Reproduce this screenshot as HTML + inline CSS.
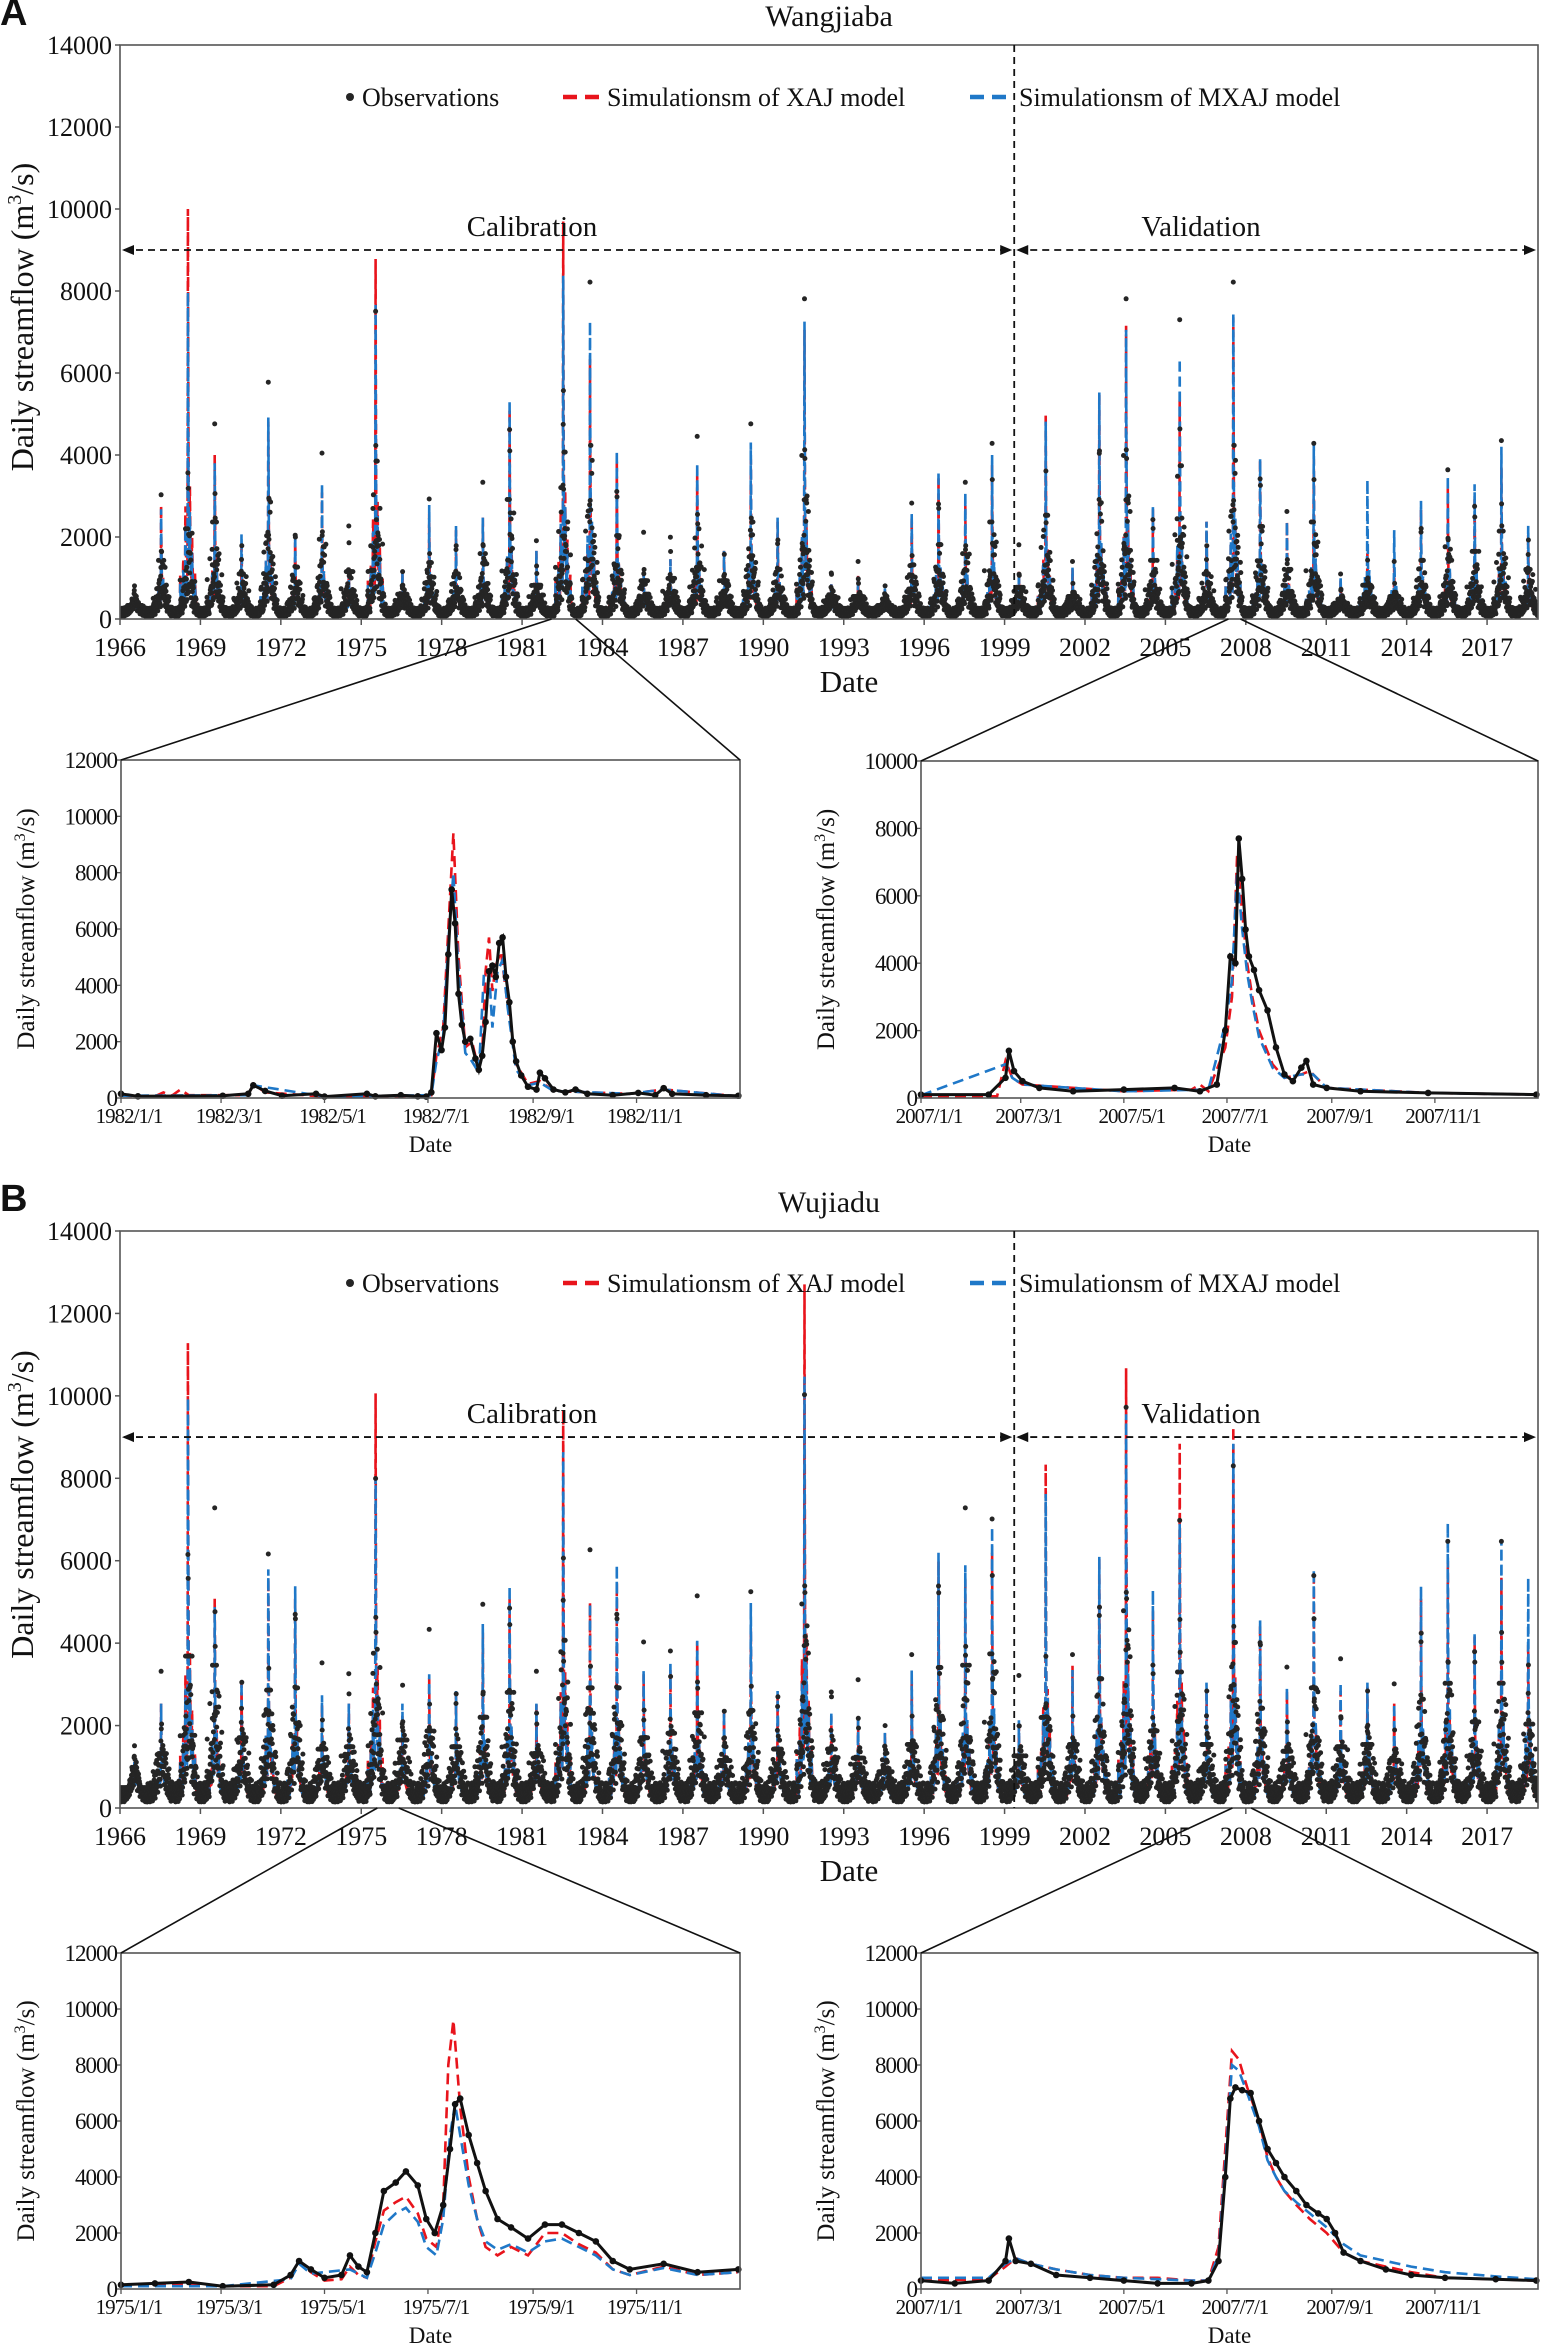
<!DOCTYPE html>
<html><head><meta charset="utf-8"><style>
body{margin:0;background:#fff;}
svg{display:block;font-family:"Liberation Serif",serif;}
</style></head><body>
<svg id="fig" width="1543" height="2346" viewBox="0 0 1543 2346"></svg>
<script>
// ---------- DATA ----------
const years = [];
for (let y = 1966; y <= 2018; y++) years.push(y);
const wjbObsPeak = [600,2600,4000,4300,2000,5300,2300,3600,2100,7000,1100,2500,2000,2900,5300,1500,7400,7700,3700,1700,1800,4000,1700,4300,2200,7300,1000,1000,600,2400,3300,2900,4300,1400,4600,1000,5300,7300,2600,6800,2000,7700,4100,2200,4300,700,1500,1000,2600,3200,3000,3900,2200];
const wjbXajPeak = [300,2500,9600,3700,1500,4500,1800,2800,1000,8400,900,2300,1900,2200,4800,1400,9300,6000,3600,1000,1200,3200,1400,3600,2100,6700,600,800,500,2200,3200,2500,3500,900,4700,1000,5200,6800,2400,5000,2100,7000,3600,2100,3600,700,1400,1000,2400,2900,2700,3400,1800];
const wjbMxajPeak = [300,2400,7600,3500,1800,4600,1800,3000,900,7300,900,2500,2000,2200,5000,1400,8000,6900,3800,1000,1200,3500,1400,4000,2200,6900,600,800,500,2300,3300,2800,3700,900,4500,1000,5200,6700,2500,6000,2100,7100,3600,2100,4000,800,3100,1900,2600,3200,3000,3900,2000];
const wjdObsPeak = [900,2400,6700,6300,3100,5200,5300,2600,2700,7000,3000,3400,2700,4000,5100,2400,7400,5300,5300,3100,3300,4200,2100,4300,2600,9000,2600,2200,1600,2800,6200,6300,6800,2300,4000,2800,5700,8700,3400,6000,2800,7300,4400,2500,5300,2700,2800,2100,4800,5500,3800,5500,3700];
const wjdXajPeak = [600,2000,10600,4500,2500,5000,4500,2000,2000,9400,1700,2600,2200,3700,4500,2000,9000,4400,4900,2700,2800,3500,1800,3800,2200,12000,1700,1600,1300,2600,5400,5000,5600,1500,7700,2900,5500,10000,4200,8200,2300,8600,3900,2300,5000,2300,2400,2000,4500,5400,3600,5000,3400];
const wjdMxajPeak = [600,2000,9300,4300,2500,5200,4800,2200,2000,7400,2000,2700,2300,3900,4800,2000,8000,4400,5300,2800,3000,3500,1800,4400,2300,9800,1800,1700,1300,2800,5600,5300,6200,1600,7000,2800,5500,8900,4700,6300,2500,8200,4000,2400,5200,2500,2500,2000,4800,6300,3700,5900,5000];
const mainYTicks = [0,2000,4000,6000,8000,10000,12000,14000];
const mainXTicks = [1966,1969,1972,1975,1978,1981,1984,1987,1990,1993,1996,1999,2002,2005,2008,2011,2014,2017];
const monthTicks = [0,59,120,181,243,304];

const a1Obs = [[0,150],[10,60],[60,80],[75,150],[78,450],[85,250],[95,80],[115,150],[120,50],[145,150],[150,60],[165,100],[175,60],[180,50],[183,200],[186,2300],[189,1700],[191,2500],[193,5100],[195,7400],[197,6200],[199,3700],[201,2600],[203,2000],[206,2100],[209,1400],[211,1000],[213,1500],[215,2700],[217,4500],[219,4700],[221,4300],[223,5500],[225,5700],[227,4300],[229,3400],[231,2000],[233,1300],[236,800],[240,400],[245,300],[247,900],[250,700],[255,300],[262,200],[268,300],[275,150],[290,100],[305,180],[315,100],[320,350],[325,150],[345,100],[364,80]];
const a1Xaj = [[0,80],[20,60],[25,200],[30,80],[35,300],[40,100],[75,100],[78,500],[85,200],[120,50],[160,50],[183,100],[186,1500],[190,2500],[193,6000],[196,9400],[199,5000],[203,1800],[207,2000],[211,1000],[213,1600],[215,4500],[217,5700],[219,3800],[221,4700],[224,5200],[228,3300],[233,1200],[240,500],[247,600],[255,250],[300,150],[320,300],[364,60]];
const a1Mxaj = [[0,80],[75,100],[78,450],[120,50],[183,100],[186,1300],[190,2200],[193,5500],[196,8000],[199,4500],[203,1600],[207,1300],[211,900],[214,4400],[217,4500],[219,2500],[222,4500],[225,4900],[228,3200],[233,1000],[240,450],[247,550],[255,250],[300,150],[320,300],[364,60]];
const a2Obs = [[0,100],[40,100],[50,600],[52,1400],[55,800],[60,500],[70,300],[90,200],[120,250],[150,300],[165,200],[175,400],[180,2000],[183,4200],[186,4000],[188,7700],[190,6500],[192,5000],[194,4200],[197,3800],[200,3200],[205,2600],[210,1500],[215,700],[220,500],[225,900],[228,1100],[232,400],[240,300],[260,200],[300,150],[364,100]];
const a2Xaj = [[0,50],[45,50],[50,1100],[54,600],[60,400],[120,200],[160,250],[165,400],[170,200],[180,1500],[184,3000],[187,7200],[190,5500],[193,4000],[196,3000],[200,2000],[208,1000],[215,600],[225,700],[230,800],[240,300],[300,150],[364,100]];
const a2Mxaj = [[0,80],[50,1000],[54,600],[60,400],[120,200],[170,250],[180,2200],[184,3500],[187,6700],[190,5000],[193,3700],[196,2800],[200,1800],[208,900],[215,600],[225,700],[232,700],[240,300],[300,150],[364,100]];
const b1Obs = [[0,150],[20,200],[40,250],[60,100],[90,150],[100,500],[105,1000],[112,700],[120,400],[130,500],[135,1200],[140,800],[145,600],[150,2000],[155,3500],[162,3800],[168,4200],[175,3700],[180,2500],[185,2000],[190,3000],[194,5000],[197,6600],[200,6800],[205,5500],[210,4500],[215,3500],[222,2500],[230,2200],[240,1800],[250,2300],[260,2300],[270,2000],[280,1700],[290,1000],[300,700],[320,900],[340,600],[364,700]];
const b1Xaj = [[0,100],[20,150],[40,200],[60,100],[90,100],[100,400],[105,1000],[112,600],[120,300],[130,350],[135,800],[140,500],[145,400],[150,1700],[155,2800],[162,3100],[168,3300],[175,2700],[180,1800],[186,1500],[190,3000],[193,8000],[196,9600],[200,6500],[205,4000],[210,2500],[215,1500],[222,1200],[230,1500],[240,1200],[250,2000],[260,2000],[270,1600],[280,1300],[290,700],[300,500],[320,800],[340,500],[364,600]];
const b1Mxaj = [[0,100],[60,100],[100,350],[105,900],[112,550],[135,700],[145,400],[150,1300],[155,2300],[162,2700],[168,2900],[175,2400],[180,1500],[186,1200],[190,2500],[194,5500],[197,6600],[200,5500],[205,3700],[210,2500],[215,1700],[222,1400],[230,1600],[240,1300],[250,1700],[260,1800],[270,1500],[280,1200],[290,700],[300,500],[320,750],[340,500],[364,600]];
const b2Obs = [[0,300],[20,200],[40,300],[50,1000],[52,1800],[56,1000],[65,900],[80,500],[100,400],[120,300],[140,200],[160,200],[170,300],[176,1000],[180,4000],[183,6800],[186,7200],[190,7100],[195,7000],[200,6000],[205,5000],[210,4500],[215,4000],[222,3500],[228,3000],[235,2700],[240,2500],[245,2000],[250,1300],[260,1000],[275,700],[290,500],[310,400],[340,350],[364,300]];
const b2Xaj = [[0,300],[40,350],[50,800],[56,1100],[65,900],[80,700],[100,500],[120,400],[140,400],[160,300],[170,300],[176,1500],[180,5000],[184,8500],[188,8200],[193,7200],[200,6000],[205,4700],[210,4000],[215,3500],[222,3000],[230,2500],[240,2000],[250,1300],[260,1000],[275,800],[290,600],[310,400],[340,350],[364,300]];
const b2Mxaj = [[0,400],[40,400],[50,900],[56,1100],[65,900],[80,700],[100,500],[120,400],[160,300],[170,300],[176,1200],[180,4500],[184,8000],[188,7800],[193,7000],[200,5800],[205,4600],[210,4000],[215,3500],[222,3100],[230,2700],[240,2200],[250,1600],[260,1200],[275,1000],[290,800],[310,600],[340,450],[364,350]];

// ---------- HELPERS ----------
const NS = "http://www.w3.org/2000/svg";
const svg = document.getElementById("fig");
const RED = "#e8141c", BLUE = "#1f78c8", DOT = "#252525";
function mk(tag, attrs, parent, name) {
  const e = document.createElementNS(NS, tag);
  for (const k in attrs) e.setAttribute(k, attrs[k]);
  
  
  (parent || svg).appendChild(e);
  return e;
}
function txt(x, y, s, size, anchor, parent, name, extra) {
  const t = mk("text", Object.assign({x: x, y: y, "font-size": size, "text-anchor": anchor || "middle", fill: "#111"}, extra || {}), parent, name);
  t.textContent = s;
  return t;
}
function axis(x0, x1, y0, y1, dmin, dmax, vmin, vmax) {
  return {
    x: d => x0 + (d - dmin) / (dmax - dmin) * (x1 - x0),
    y: v => y1 - (v - vmin) / (vmax - vmin) * (y1 - y0),
    x0, x1, y0, y1
  };
}
// within-year hydrograph template (shape only)
const evDay = [90,130,160,195,220,250,290];
const evRel = [0.1,0.16,0.3,1,0.32,0.18,0.1];
const evDecay = [10,12,12,8,14,14,12];
const jit = [1,0.6,1.4,0.8,1.7,0.7,1.2,0.5,1.3,0.9,2.0,0.75];
function seasonal(base, d) {
  return base * (0.55 + 1.1 * Math.exp(-Math.pow((d - 200) / 75, 2)));
}
function yearVals(peak, base, d) {
  let v = seasonal(base, d);
  for (let k = 0; k < evDay.length; k++) {
    const dd = d - evDay[k];
    const w = dd < 0 ? 3 : evDecay[k];
    v += peak * evRel[k] * Math.exp(-Math.abs(dd) / w);
  }
  return v;
}

function mainPanel(g, ax, obsP, xajP, mxajP, base, dotBoost) {
  const STEP = 3;
  const paths = [[xajP, RED, 'xaj-simulation-line'], [mxajP, BLUE, 'mxaj-simulation-line']];
  for (const [arr, col, nm] of paths) {
    let d = "";
    years.forEach((yr, i) => {
      for (let day = 0; day < 365; day += STEP) {
        const v = yearVals(arr[i], base * 0.8, day);
        d += (d ? "L" : "M") + ax.x(yr + day / 365).toFixed(1) + "," + ax.y(v).toFixed(1);
      }
    });
    mk("path", {d: d, fill: "none", stroke: col, "stroke-width": 2.6, "stroke-dasharray": "10 5"}, g, nm);
  }
  const dg = mk("g", {fill: DOT}, g, 'observation-points');
  years.forEach((yr, i) => {
    let c = i * 5;
    for (let day = 0; day < 365; day += STEP) {
      const raw = yearVals(obsP[i], base * dotBoost, day);
      const v = Math.min(raw * jit[c++ % jit.length], Math.max(raw, obsP[i] * 0.55));
      const cc = document.createElementNS(NS, "circle");
      cc.setAttribute("cx", ax.x(yr + day / 365).toFixed(1));
      cc.setAttribute("cy", Math.min(ax.y(0) - 1, ax.y(v)).toFixed(1));
      cc.setAttribute("r", 2.5);
      
      
      dg.appendChild(cc);
    }
  });
}

function frame(ax, g, name) {
  mk("rect", {x: ax.x0, y: ax.y0, width: ax.x1 - ax.x0, height: ax.y1 - ax.y0, fill: "none", stroke: "#555", "stroke-width": 1.6}, g, name);
}

function drawMain(top, bottom, title, letter, obsP, xajP, mxajP, base, boost, split, pfx) {
  const g = mk("g", {}, svg, pfx + '-main-panel');
  const ax = axis(120, 1538, top, bottom, 1966, 2018.9, 0, 14000);
  txt(0, top - 20, letter, 38, "start", g, pfx + '-panel-letter', {"font-family": "Liberation Sans, sans-serif", "font-weight": "bold"});
  txt(829, top - 19, title, 30, "middle", g, pfx + '-station-title');
  const clip = mk("clipPath", {id: "clip" + pfx}, g, pfx + '-clip');
  mk("rect", {x: ax.x0, y: ax.y0, width: ax.x1 - ax.x0, height: ax.y1 - ax.y0}, clip, pfx + '-clip-rect');
  const pg = mk("g", {"clip-path": "url(#clip" + pfx + ")"}, g, pfx + '-plot-area');
  mainPanel(pg, ax, obsP, xajP, mxajP, base, boost);
  frame(ax, g, pfx + '-plot-frame');
  mainYTicks.forEach(v => {
    mk("line", {x1: ax.x0 - 5, x2: ax.x0, y1: ax.y(v), y2: ax.y(v), stroke: "#555", "stroke-width": 1.5}, g, 'y-tick');
    txt(ax.x0 - 8, ax.y(v) + 9, String(v), 26, "end", g, 'y-tick-label');
  });
  mainXTicks.forEach(v => {
    mk("line", {x1: ax.x(v), x2: ax.x(v), y1: ax.y1, y2: ax.y1 + 6, stroke: "#555", "stroke-width": 1.5}, g, 'x-tick');
    txt(ax.x(v), ax.y1 + 37, String(v), 26, "middle", g, 'x-tick-label');
  });
  txt(849, ax.y1 + 73, "Date", 31, "middle", g, pfx + '-x-axis-title');
  const yt = txt(0, 0, "", 32, "middle", g, pfx + '-y-axis-title', {transform: "translate(33," + ((top + bottom) / 2 - 15) + ") rotate(-90)"});
  yt.innerHTML = 'Daily streamflow (m<tspan dy="-12" font-size="20">3</tspan><tspan dy="12">/s)</tspan>';
  const sx = ax.x(split);
  mk("line", {x1: sx, x2: sx, y1: ax.y0, y2: ax.y1, stroke: "#111", "stroke-width": 1.8, "stroke-dasharray": "7 5"}, g, pfx + '-split-line');
  const ay = ax.y(9000);
  mk("line", {x1: ax.x0 + 4, x2: sx - 4, y1: ay, y2: ay, stroke: "#111", "stroke-width": 1.8, "stroke-dasharray": "7 5"}, g, 'calibration-arrow');
  mk("line", {x1: sx + 4, x2: ax.x1 - 4, y1: ay, y2: ay, stroke: "#111", "stroke-width": 1.8, "stroke-dasharray": "7 5"}, g, 'validation-arrow');
  [[ax.x0 + 2, 1], [sx - 2, -1], [sx + 2, 1], [ax.x1 - 2, -1]].forEach(([x, s]) => {
    mk("path", {d: "M" + x + "," + ay + "l" + (12 * s) + ",-5l0,10z", fill: "#111"}, g, 'arrow-head');
  });
  txt(532, ay - 14, "Calibration", 29, "middle", g, 'calibration-label');
  txt(1201, ay - 14, "Validation", 29, "middle", g, 'validation-label');
  const ly = top + 61;
  const lg = mk("g", {}, g, pfx + '-legend');
  mk("circle", {cx: 350, cy: ly - 9, r: 4, fill: DOT}, lg, 'legend-observations-marker');
  txt(362, ly, "Observations", 26, "start", lg, 'legend-observations');
  mk("line", {x1: 563, x2: 600, y1: ly - 9, y2: ly - 9, stroke: RED, "stroke-width": 4.5, "stroke-dasharray": "14 8"}, lg, 'legend-xaj-marker');
  txt(607, ly, "Simulationsm of XAJ model", 26, "start", lg, 'legend-xaj');
  mk("line", {x1: 970, x2: 1012, y1: ly - 9, y2: ly - 9, stroke: BLUE, "stroke-width": 4.5, "stroke-dasharray": "14 8"}, lg, 'legend-mxaj-marker');
  txt(1019, ly, "Simulationsm of MXAJ model", 26, "start", lg, 'legend-mxaj');
  return ax;
}

function drawInset(x0, x1, y0, y1, vmax, step, yr, obs, xaj, mxaj, name) {
  const g = mk("g", {}, svg, name);
  const ax = axis(x0, x1, y0, y1, 0, 365, 0, vmax);
  const line = (arr, col, w, dash, nm) => {
    let d = "";
    arr.forEach(p => { d += (d ? "L" : "M") + ax.x(p[0]).toFixed(1) + "," + ax.y(p[1]).toFixed(1); });
    const a = {d: d, fill: "none", stroke: col, "stroke-width": w};
    if (dash) a["stroke-dasharray"] = dash;
    mk("path", a, g, nm);
  };
  line(xaj, RED, 2.6, "11 6", 'xaj-simulation-line');
  line(mxaj, BLUE, 2.6, "11 6", 'mxaj-simulation-line');
  line(obs, "#111", 3, null, 'observation-line');
  obs.forEach(p => mk("circle", {cx: ax.x(p[0]), cy: ax.y(p[1]), r: 3.3, fill: "#111"}, g, 'observation-point'));
  frame(ax, g, name + '-frame');
  for (let v = 0; v <= vmax; v += step) {
    mk("line", {x1: x0 - 4, x2: x0, y1: ax.y(v), y2: ax.y(v), stroke: "#555", "stroke-width": 1.3}, g, 'y-tick');
    txt(x0 - 4, ax.y(v) + 8, String(v), 23, "end", g, 'y-tick-label', {"letter-spacing": "-1"});
  }
  const mlab = ["1/1", "3/1", "5/1", "7/1", "9/1", "11/1"];
  monthTicks.forEach((m, i) => {
    mk("line", {x1: ax.x(m), x2: ax.x(m), y1: y1, y2: y1 + 5, stroke: "#555", "stroke-width": 1.3}, g, 'x-tick');
    txt(ax.x(m) + 8, y1 + 25, yr + "/" + mlab[i], 21, "middle", g, 'x-tick-label', {"letter-spacing": "-1"});
  });
  txt((x0 + x1) / 2, y1 + 54, "Date", 23, "middle", g, name + '-x-axis-title');
  const yt = txt(0, 0, "", 25, "middle", g, name + '-y-axis-title', {transform: "translate(" + (x0 - 87) + "," + ((y0 + y1) / 2) + ") rotate(-90)"});
  yt.innerHTML = 'Daily streamflow (m<tspan dy="-9" font-size="16">3</tspan><tspan dy="9">/s)</tspan>';
  return ax;
}

function zoomLines(ax, d0, d1, ix0, ix1, iy, name) {
  mk("line", {x1: ax.x(d0), y1: ax.y1, x2: ix0, y2: iy, stroke: "#111", "stroke-width": 1.6}, svg, name + '-left');
  mk("line", {x1: ax.x(d1), y1: ax.y1, x2: ix1, y2: iy, stroke: "#111", "stroke-width": 1.6}, svg, name + '-right');
}

const axA = drawMain(45, 619, "Wangjiaba", "A", wjbObsPeak, wjbXajPeak, wjbMxajPeak, 180, 1.3, 1999.36, 'a');
drawInset(121, 740, 760, 1098, 12000, 2000, 1982, a1Obs, a1Xaj, a1Mxaj, 'inset-a-1982');
drawInset(921, 1538, 761, 1098, 10000, 2000, 2007, a2Obs, a2Xaj, a2Mxaj, 'inset-a-2007');
zoomLines(axA, 1982.1, 1983.0, 121, 740, 760, 'zoom-line-a-1982');
zoomLines(axA, 2007.35, 2007.8, 921, 1538, 761, 'zoom-line-a-2007');

const axB = drawMain(1231, 1808, "Wujiadu", "B", wjdObsPeak, wjdXajPeak, wjdMxajPeak, 380, 1.4, 1999.36, 'b');
drawInset(121, 740, 1953, 2289, 12000, 2000, 1975, b1Obs, b1Xaj, b1Mxaj, 'inset-b-1975');
drawInset(921, 1538, 1953, 2289, 12000, 2000, 2007, b2Obs, b2Xaj, b2Mxaj, 'inset-b-2007');
zoomLines(axB, 1975.6, 1976.4, 121, 740, 1953, 'zoom-line-b-1975');
zoomLines(axB, 2007.5, 2008.2, 921, 1538, 1953, 'zoom-line-b-2007');
</script>
</body></html>
